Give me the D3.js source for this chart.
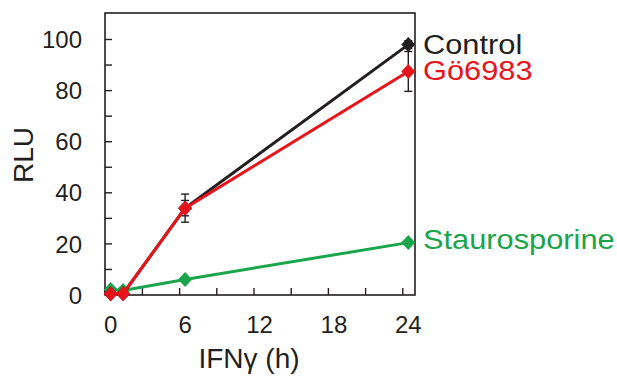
<!DOCTYPE html>
<html>
<head>
<meta charset="utf-8">
<script src="https://cdn.jsdelivr.net/npm/d3@7"></script>
<style>
  body { margin: 0; background: #fff; }
  text { font-family: "Liberation Sans", Arial, sans-serif; }
</style>
</head>
<body>
<div id="chart"></div>
<script>
const hours = [0, 1, 6, 24];
const control     = [0.5, 0.5, 34, 98];
const controlErr  = [0, 0, 5.5, 1.5];
const go6983      = [0.5, 0.5, 34, 87.5];
const go6983Err   = [0, 0, 3, 7.8];
const stauro      = [2.2, 1.8, 6.1, 20.5];
const stauroErr   = [0, 0, 0, 0];
const xTicks      = [0, 3, 6, 9, 12, 15, 18, 21, 24];
const xLabels     = [0, 6, 12, 18, 24];
const yTicks      = [0, 10, 20, 30, 40, 50, 60, 70, 80, 90, 100];
const yLabels     = [0, 20, 40, 60, 80, 100];

const series = [
  {name: "Staurosporine", values: stauro,  err: stauroErr,  color: "#1aa54b", labelAt: 21.8},
  {name: "Control",       values: control, err: controlErr, color: "#231f20", labelAt: 98},
  {name: "Gö6983",        values: go6983,  err: go6983Err,  color: "#e8141b", labelAt: 88}
];

const W = 617, H = 386;
const frame = {left: 105, right: 415, top: 13, bottom: 295};
const tickShift = -5.5;   // tick marks sit a bit left of the labels in the original

const x = d3.scaleLinear([0, 24], [110.7, 408.3]);
const y = d3.scaleLinear([0, 100], [295, 39.5]);

const svg = d3.select("#chart").append("svg")
  .attr("width", W).attr("height", H)
  .attr("viewBox", `0 0 ${W} ${H}`);

// frame
svg.append("rect")
  .attr("x", frame.left).attr("y", frame.top)
  .attr("width", frame.right - frame.left).attr("height", frame.bottom - frame.top)
  .attr("fill", "none").attr("stroke", "#231f20").attr("stroke-width", 1.6);

// y ticks (inward)
svg.append("g").selectAll("line").data(yTicks).join("line")
  .attr("x1", frame.left).attr("x2", frame.left + 7)
  .attr("y1", d => y(d)).attr("y2", d => y(d))
  .attr("stroke", "#231f20").attr("stroke-width", 1.4);
svg.append("g").selectAll("text").data(yLabels).join("text")
  .attr("x", 82).attr("y", d => y(d)).attr("dy", "0.36em")
  .attr("text-anchor", "end").attr("font-size", 24).attr("fill", "#231f20")
  .text(d => d);

// x ticks (inward)
svg.append("g").selectAll("line").data(xTicks).join("line")
  .attr("x1", d => x(d) + tickShift).attr("x2", d => x(d) + tickShift)
  .attr("y1", frame.bottom).attr("y2", frame.bottom - 7)
  .attr("stroke", "#231f20").attr("stroke-width", 1.4);
svg.append("g").selectAll("text").data(xLabels).join("text")
  .attr("x", d => x(d)).attr("y", 333)
  .attr("text-anchor", "middle").attr("font-size", 24).attr("fill", "#231f20")
  .text(d => d);

// axis titles
svg.append("text")
  .attr("transform", `translate(33 155) rotate(-90)`)
  .attr("text-anchor", "middle").attr("font-size", 28).attr("fill", "#231f20")
  .text("RLU");
svg.append("text")
  .attr("x", 249).attr("y", 368)
  .attr("text-anchor", "middle").attr("font-size", 28).attr("fill", "#231f20")
  .text("IFNγ (h)");

const line = d3.line().x(d => x(d[0])).y(d => y(d[1]));
const diamond = "M0,-7.5L7,0L0,7.5L-7,0Z";

series.forEach(s => {
  const pts = hours.map((h, i) => [h, s.values[i], s.err[i]]);
  const g = svg.append("g");
  // error bars
  const eb = g.selectAll("g.err").data(pts.filter(p => p[2] > 0)).join("g").attr("class", "err");
  eb.append("line")
    .attr("x1", d => x(d[0])).attr("x2", d => x(d[0]))
    .attr("y1", d => y(d[1] - d[2])).attr("y2", d => y(d[1] + d[2]))
    .attr("stroke", "#231f20").attr("stroke-width", 1.4);
  eb.selectAll("line.cap").data(d => [d[1] - d[2], d[1] + d[2]].map(v => [d[0], v])).join("line")
    .attr("class", "cap")
    .attr("x1", d => x(d[0]) - 4).attr("x2", d => x(d[0]) + 4)
    .attr("y1", d => y(d[1])).attr("y2", d => y(d[1]))
    .attr("stroke", "#231f20").attr("stroke-width", 1.4);
  g.append("path").datum(pts)
    .attr("d", line).attr("fill", "none")
    .attr("stroke", s.color).attr("stroke-width", 3);
  g.selectAll("path.pt").data(pts).join("path")
    .attr("class", "pt")
    .attr("transform", d => `translate(${x(d[0])} ${y(d[1])})`)
    .attr("d", diamond).attr("fill", s.color);
  svg.append("text")
    .attr("transform", `translate(423 ${y(s.labelAt)}) scale(1.1 1)`)
    .attr("dy", "0.35em")
    .attr("font-size", 28).attr("fill", s.color)
    .text(s.name);
});
</script>
</body>
</html>
